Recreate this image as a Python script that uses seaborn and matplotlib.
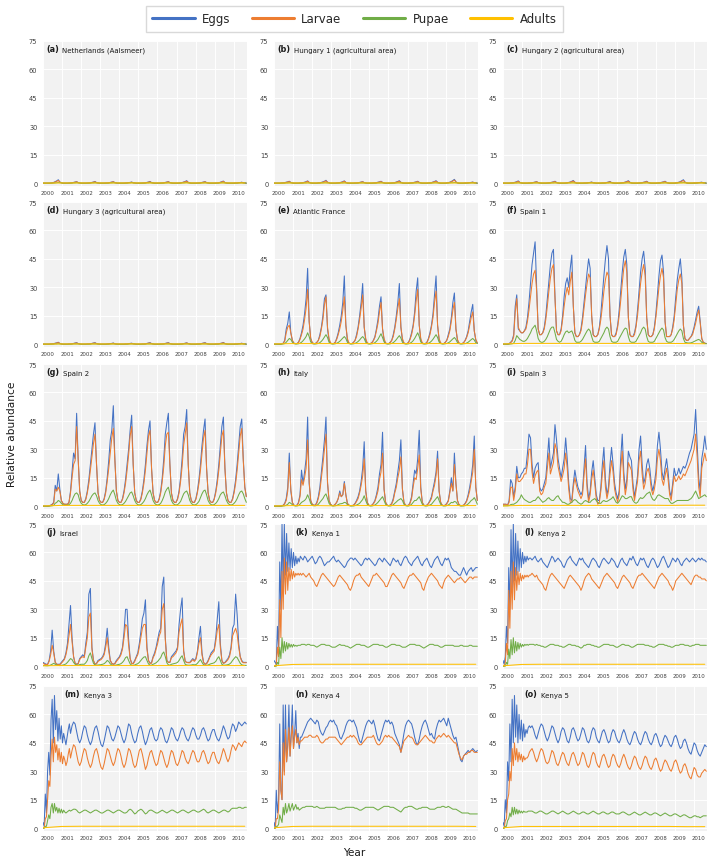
import numpy as np
import pandas as pd
import matplotlib
matplotlib.use("Agg")
import matplotlib.pyplot as plt
from matplotlib.lines import Line2D
import seaborn as sns

# ---------------- sample grids (years since start of axis) ----------------
T_MONTH = np.arange(134) / 12.0                                    # monthly samples
T_KENYA = np.concatenate([np.arange(24) / 16.0, 1.5 + np.arange(116) / 12.0])
T_ADULT = np.arange(12.0)

STAGES = ["Eggs", "Larvae", "Pupae", "Adults"]
COLORS = ["#4472C4", "#ED7D31", "#70AD47", "#FFC000"]
YEAR_LABELS = [str(y) for y in range(2000, 2011)]

# ---------------- (a) Netherlands (Aalsmeer) ----------------
nl_eggs = [0,0,0,0,0,.1,.2,.4,.8,1.2,1.8,.6, .2,0,0,0,0,.1,.1,.2,.4,.6,.8,.3,
           .1,0,0,0,0,.1,.1,.2,.4,.6,.9,.3, .1,0,0,0,0,.1,.1,.2,.4,.6,.8,.3,
           .1,0,0,0,0,0,.1,.2,.3,.4,.6,.2, .1,0,0,0,0,.1,.1,.2,.4,.6,.9,.3,
           .1,0,0,0,0,.1,.1,.2,.4,.6,.8,.3, .1,0,0,0,0,.1,.2,.3,.6,.9,1.3,.4,
           .1,0,0,0,0,.1,.1,.2,.4,.6,.8,.3, .1,0,0,0,0,.1,.1,.2,.5,.8,1.1,.3,
           .1,0,0,0,0,0,.1,.1,.2,.3,.5,.2, .1,0]
nl_larvae = [0,0,0,0,0,0,.1,.3,.6,1,1.4,.6, .2,0,0,0,0,0,.1,.2,.3,.5,.7,.3,
             .1,0,0,0,0,0,.1,.2,.3,.5,.7,.3, .1,0,0,0,0,0,.1,.2,.3,.5,.7,.3,
             .1,0,0,0,0,0,.1,.1,.2,.3,.5,.2, .1,0,0,0,0,0,.1,.2,.3,.5,.7,.3,
             .1,0,0,0,0,0,.1,.2,.3,.5,.7,.3, .1,0,0,0,0,0,.1,.3,.5,.7,1,.4,
             .1,0,0,0,0,0,.1,.2,.3,.5,.7,.3, .1,0,0,0,0,0,.1,.2,.4,.6,.9,.3,
             .1,0,0,0,0,0,.1,.1,.2,.3,.4,.2, .1,0]
nl_pupae = [0,0,0,0,0,0,0,0,.1,.2,.3,.2, .1,0,0,0,0,0,0,0,.1,.1,.2,.1,
            .1,0,0,0,0,0,0,0,.1,.1,.2,.1, .1,0,0,0,0,0,0,0,.1,.1,.2,.1,
            .1,0,0,0,0,0,0,0,.1,.1,.2,.1, .1,0,0,0,0,0,0,0,.1,.1,.2,.1,
            .1,0,0,0,0,0,0,0,.1,.1,.2,.1, .1,0,0,0,0,0,0,.1,.1,.2,.3,.1,
            .1,0,0,0,0,0,0,0,.1,.1,.2,.1, .1,0,0,0,0,0,0,0,.1,.2,.2,.1,
            .1,0,0,0,0,0,0,0,.1,.1,.1,.1, .1,0]
nl_adults = [0.05,0.1,0.1,0.1,0.1,0.1,0.1,0.1,0.1,0.1,0.1,0.1]

# ---------------- (b) Hungary 1 ----------------
hu1_eggs = [0,0,0,0,0,.1,.2,.3,.5,.7,1,.4, .1,0,0,0,0,.1,.2,.3,.5,.8,1.2,.4,
            .1,0,0,0,0,.2,.2,.4,.7,1,1.5,.5, .2,0,0,0,0,.1,.2,.3,.5,.8,1.2,.4,
            .1,0,0,0,0,.1,.1,.2,.4,.6,.8,.3, .1,0,0,0,0,.1,.2,.3,.5,.7,1,.4,
            .1,0,0,0,0,.1,.2,.3,.6,.9,1.3,.5, .1,0,0,0,0,.1,.2,.3,.5,.7,1,.4,
            .1,0,0,0,0,.1,.2,.3,.6,.9,1.3,.5, .1,0,0,0,0,.2,.3,.5,.9,1.4,2,.7,
            .2,0,0,0,0,.1,.1,.2,.3,.4,.6,.2, .1,0]
hu1_larvae = [0,0,0,0,0,.1,.1,.2,.4,.6,.8,.4, .1,0,0,0,0,.1,.1,.2,.4,.6,1,.4,
              .1,0,0,0,0,.1,.2,.3,.5,.8,1.2,.5, .2,0,0,0,0,.1,.1,.2,.4,.6,1,.4,
              .1,0,0,0,0,.1,.1,.2,.3,.5,.7,.3, .1,0,0,0,0,.1,.1,.2,.4,.6,.8,.4,
              .1,0,0,0,0,.1,.1,.2,.5,.7,1,.4, .1,0,0,0,0,.1,.1,.2,.4,.6,.8,.4,
              .1,0,0,0,0,.1,.1,.2,.5,.7,1,.4, .1,0,0,0,0,.1,.2,.4,.7,1.1,1.6,.6,
              .2,0,0,0,0,.1,.1,.2,.2,.3,.5,.2, .1,0]
hu1_pupae = [0,0,0,0,0,0,0,0,.1,.1,.2,.1, .1,0,0,0,0,0,0,0,.1,.1,.2,.1,
             .1,0,0,0,0,0,0,.1,.1,.2,.2,.1, .1,0,0,0,0,0,0,0,.1,.1,.2,.1,
             0,0,0,0,0,0,0,0,.1,.1,.1,.1, .1,0,0,0,0,0,0,0,.1,.1,.2,.1,
             .1,0,0,0,0,0,0,0,.1,.2,.2,.1, .1,0,0,0,0,0,0,0,.1,.1,.2,.1,
             .1,0,0,0,0,0,0,0,.1,.2,.2,.1, .1,0,0,0,0,0,0,.1,.2,.2,.3,.2,
             .1,0,0,0,0,0,0,0,.1,.1,.1,.1, .1,0]
hu1_adults = [0.05,0.1,0.1,0.1,0.1,0.1,0.1,0.1,0.1,0.1,0.1,0.1]

# ---------------- (c) Hungary 2 ----------------
hu2_eggs = [0,0,0,0,0,.1,.2,.3,.5,.8,1.2,.4, .1,0,0,0,0,.1,.1,.2,.4,.6,.8,.3,
            .1,0,0,0,0,.1,.2,.3,.5,.7,1,.4, .1,0,0,0,0,.1,.2,.4,.6,1,1.4,.5,
            .1,0,0,0,0,.1,.1,.2,.3,.4,.6,.2, .1,0,0,0,0,.1,.1,.2,.4,.6,.9,.3,
            .1,0,0,0,0,.1,.2,.3,.6,.9,1.3,.5, .1,0,0,0,0,.1,.2,.3,.5,.7,1,.4,
            .1,0,0,0,0,.1,.2,.3,.5,.7,1,.4, .1,0,0,0,0,.2,.3,.5,.8,1.3,1.8,.6,
            .2,0,0,0,0,.1,.1,.2,.3,.4,.5,.2, .1,0]
hu2_larvae = [0,0,0,0,0,.1,.1,.2,.4,.6,.9,.4, .1,0,0,0,0,.1,.1,.2,.3,.5,.7,.3,
              .1,0,0,0,0,.1,.1,.2,.4,.6,.8,.3, .1,0,0,0,0,.1,.2,.3,.5,.8,1.1,.5,
              .1,0,0,0,0,0,.1,.1,.2,.3,.5,.2, .1,0,0,0,0,.1,.1,.2,.3,.5,.7,.3,
              .1,0,0,0,0,.1,.2,.3,.5,.7,1,.4, .1,0,0,0,0,.1,.1,.2,.4,.6,.8,.3,
              .1,0,0,0,0,.1,.1,.2,.4,.6,.8,.3, .1,0,0,0,0,.1,.2,.4,.6,1,1.4,.5,
              .2,0,0,0,0,.1,.1,.2,.2,.3,.4,.2, .1,0]
hu2_pupae = [0,0,0,0,0,0,0,0,.1,.1,.2,.1, .1,0,0,0,0,0,0,0,.1,.1,.1,.1,
             .1,0,0,0,0,0,0,0,.1,.1,.2,.1, .1,0,0,0,0,0,0,.1,.1,.2,.2,.1,
             0,0,0,0,0,0,0,0,.1,.1,.1,.1, .1,0,0,0,0,0,0,0,.1,.1,.2,.1,
             .1,0,0,0,0,0,0,0,.1,.2,.2,.1, .1,0,0,0,0,0,0,0,.1,.1,.2,.1,
             .1,0,0,0,0,0,0,0,.1,.1,.2,.1, .1,0,0,0,0,0,0,.1,.2,.2,.3,.2,
             .1,0,0,0,0,0,0,0,.1,.1,.1,.1, .1,0]
hu2_adults = [0.05,0.1,0.1,0.1,0.1,0.1,0.1,0.1,0.1,0.1,0.1,0.1]

# ---------------- (d) Hungary 3 ----------------
hu3_eggs = [0,0,0,0,0,.1,.2,.3,.5,.7,1,.4, .1,0,0,0,0,.1,.1,.2,.4,.6,.8,.3,
            .1,0,0,0,0,.1,.1,.2,.4,.6,.8,.3, .1,0,0,0,0,0,.1,.2,.3,.4,.6,.2,
            .1,0,0,0,0,0,.1,.1,.2,.4,.5,.2, .1,0,0,0,0,.1,.1,.2,.4,.6,.8,.3,
            .1,0,0,0,0,.1,.1,.2,.4,.6,.8,.3, .1,0,0,0,0,0,.1,.2,.3,.5,.7,.3,
            .1,0,0,0,0,.1,.1,.2,.4,.6,.8,.3, .1,0,0,0,0,.1,.1,.2,.4,.6,.9,.3,
            .1,0,0,0,0,0,.1,.1,.2,.3,.5,.2, .1,0]
hu3_larvae = [0,0,0,0,0,.1,.1,.2,.4,.6,.8,.4, .1,0,0,0,0,.1,.1,.2,.3,.5,.6,.3,
              .1,0,0,0,0,.1,.1,.2,.3,.5,.6,.3, .1,0,0,0,0,0,.1,.1,.2,.3,.5,.2,
              .1,0,0,0,0,0,.1,.1,.2,.3,.4,.2, .1,0,0,0,0,.1,.1,.2,.3,.5,.6,.3,
              .1,0,0,0,0,.1,.1,.2,.3,.5,.6,.3, .1,0,0,0,0,0,.1,.1,.2,.4,.6,.3,
              .1,0,0,0,0,.1,.1,.2,.3,.5,.6,.3, .1,0,0,0,0,.1,.1,.2,.3,.5,.7,.3,
              .1,0,0,0,0,0,.1,.1,.2,.2,.4,.2, .1,0]
hu3_pupae = [0,0,0,0,0,0,0,0,.1,.1,.2,.1, .1,0,0,0,0,0,0,0,.1,.1,.1,.1,
             .1,0,0,0,0,0,0,0,.1,.1,.1,.1, .1,0,0,0,0,0,0,0,.1,.1,.1,.1,
             0,0,0,0,0,0,0,0,.1,.1,.1,.1, .1,0,0,0,0,0,0,0,.1,.1,.1,.1,
             .1,0,0,0,0,0,0,0,.1,.1,.1,.1, .1,0,0,0,0,0,0,0,.1,.1,.1,.1,
             .1,0,0,0,0,0,0,0,.1,.1,.1,.1, .1,0,0,0,0,0,0,0,.1,.1,.2,.1,
             .1,0,0,0,0,0,0,0,.1,.1,.1,.1, .1,0]
hu3_adults = [0.05,0.1,0.1,0.1,0.1,0.1,0.1,0.1,0.1,0.1,0.1,0.1]

# ---------------- (e) Atlantic France ----------------
fr_eggs = [0,0,0,0,0,.2,.5,2,8,11,17,6, 2,.5,.3,.3,1,3,6,10,16,24,40,12,
           3,.8,.3,.3,1,2,5,9,15,24,26,8, 2,.5,.3,.3,1,3,6,10,15,22,36,10,
           2,.5,.3,.3,1,2,5,9,15,22,32,9, 2,.5,.3,.3,.8,2,4,8,13,20,25,8,
           2,.5,.3,.3,1,2,5,9,15,22,32,9, 2,.5,.3,.3,1,3,6,10,17,28,35,10,
           2,.5,.3,.3,1,3,6,10,16,26,36,10, 2,.5,.3,.3,1,2,5,8,14,22,27,8,
           2,.5,.3,.3,.8,2,4,7,12,17,21,7, 2,.5]
fr_larvae = [0,0,0,0,0,.1,.4,1.5,6,9,10,6, 2,.5,.3,.3,.8,2.5,5,8,13,19,29,12,
             3,.8,.3,.3,.8,2,4,8,13,21,25,9, 3,.6,.3,.3,.8,2.5,5,8,12,18,25,10,
             3,.6,.3,.3,.8,2,4,8,13,19,26,9, 3,.6,.3,.3,.7,1.8,3.5,7,11,17,22,8,
             3,.6,.3,.3,.8,2,4,8,13,19,24,9, 3,.6,.3,.3,.8,2.5,5,9,15,23,29,10,
             3,.6,.3,.3,.8,2.5,5,9,14,22,28,10, 3,.6,.3,.3,.8,2,4,7,12,18,22,8,
             2.5,.6,.3,.3,.7,1.8,3.5,6,10,14,17,7, 2.5,.6]
fr_pupae = [0,0,0,0,0,0,.1,.3,1,2,3,2.5, 1,.3,.1,.1,.2,.5,1,1.8,2.8,4,6,4,
            1.2,.3,.1,.1,.2,.4,.8,1.5,2.5,3.8,5,3.5, 1,.3,.1,.1,.2,.5,.9,1.5,2.3,3.2,4,3,
            1,.3,.1,.1,.2,.4,.8,1.4,2.2,3.2,4,3, 1,.3,.1,.1,.2,.4,.8,1.5,2.5,4,5.5,3.5,
            1.2,.3,.1,.1,.2,.4,.8,1.5,2.4,3.5,4.5,3.2, 1,.3,.1,.1,.2,.5,1,1.8,3,4.5,6,4,
            1.2,.3,.1,.1,.2,.5,.9,1.6,2.6,3.8,5,3.5, 1.1,.3,.1,.1,.2,.4,.7,1.2,2,2.8,3.5,2.5,
            .8,.3,.1,.1,.2,.3,.6,1,1.7,2.4,3,2.2, .8,.3]
fr_adults = [0.1,0.3,0.3,0.3,0.3,0.3,0.3,0.3,0.3,0.3,0.3,0.3]

# ---------------- (f) Spain 1 ----------------
es1_eggs = [0,0,0,0,.3,1,2,5,20,26,8,7, 6,6,7,9,14,22,32,42,48,54,30,8,
            5,5,6,9,15,24,33,42,48,50,25,7, 5,5,8,15,25,32,35,30,40,47,20,6,
            4,4,5,8,14,22,30,38,45,40,15,5, 4,4,5,9,16,26,36,45,52,45,15,5,
            4,4,6,10,18,28,38,46,50,42,14,5, 4,4,6,10,18,28,38,45,49,40,14,5,
            4,4,5,9,16,26,36,44,47,38,12,4, 4,4,5,9,15,25,34,40,45,35,10,3,
            2,2,3,4,6,9,13,17,20,12,3,1, .5,.3]
es1_larvae = [0,0,0,0,.2,.8,1.5,4,17,24,9,7, 6,6,7,8,12,18,25,32,37,39,28,8,
              5,5,6,8,13,20,28,35,40,42,24,7, 5,5,7,13,20,26,30,26,33,38,20,6,
              4,4,5,7,12,19,26,32,37,35,15,5, 4,4,5,8,13,20,28,34,38,36,15,5,
              4,4,5,9,15,23,32,40,44,38,14,5, 4,4,5,9,15,24,32,38,42,36,14,5,
              4,4,5,8,14,22,30,36,40,35,12,4, 4,4,5,8,13,21,29,34,37,32,10,3,
              2,2,3,4,5,8,11,15,18,11,3,1, .5,.3]
es1_pupae = [0,0,0,0,0,.1,.2,.5,2,4.5,3.5,2.5, 2,1.5,1.5,2,3,4.5,6,8,9,10,7,3,
             1.5,1,1,1.5,2.5,4,6,8,9,9,6,2.5, 1.5,1,1.5,3,5,6.5,7,6,6.5,7,5,2,
             1,1,1,1.5,2.5,4,5.5,7,8,7,4,1.5, 1,1,1,1.5,3,4.5,6,8,9,8,4,1.5,
             1,1,1,1.5,3,4.5,6,7.5,8.5,8,4,1.5, 1,1,1,1.5,3,4.5,6,8,9,8,4,1.5,
             1,1,1,1.5,3,4.5,6,7.5,8.5,7.5,3.5,1.5, 1,1,1,1.5,2.5,4,5.5,7,8,7,3,1,
             .8,.6,.6,.7,1,1.4,1.8,2.2,2.5,2,1,.5, .3,.2]
es1_adults = [0.1,0.4,0.4,0.4,0.4,0.4,0.4,0.4,0.4,0.4,0.3,0.2]

# ---------------- (g) Spain 2 ----------------
es2_eggs = [0,0,0,0,.2,.5,1,2,11,8,17,9, 3,1.5,1,1,1,2,8,18,28,25,49,25,
            8,3,2,2,4,8,14,22,30,38,44,22, 7,3,2,2,4,8,15,24,35,40,53,25,
            8,3,2,2,4,8,14,22,30,40,48,22, 7,3,2,2,4,8,14,22,32,40,45,20,
            7,3,2,2,4,8,15,25,38,44,49,22, 7,3,2,2,4,8,15,25,38,42,51,22,
            7,3,2,2,4,8,14,22,32,40,46,20, 7,3,2,2,4,8,14,22,32,42,47,20,
            7,3,2,2,4,8,14,22,32,42,46,25, 10,5]
es2_larvae = [0,0,0,0,.1,.4,.8,1.5,9,8,10,8, 3,1.5,1,1,1,2,7,15,22,24,42,25,
              8,3,2,2,3.5,7,12,19,26,33,38,22, 7,3,2,2,3.5,7,13,20,28,36,41,24,
              8,3,2,2,3.5,7,12,19,27,37,42,22, 7,3,2,2,3.5,7,12,19,28,37,40,20,
              7,3,2,2,3.5,7,13,21,32,38,39,22, 7,3,2,2,3.5,7,13,21,32,38,44,22,
              7,3,2,2,3.5,7,12,19,28,36,40,20, 7,3,2,2,3.5,7,12,19,28,37,40,20,
              7,3,2,2,3.5,7,12,19,28,37,41,24, 10,5]
es2_pupae = [0,0,0,0,0,.1,.2,.4,1.5,2,3,2.5, 1.5,.8,.5,.5,.5,.8,1.5,3,5,6.5,7,6,
             3,1.5,.8,.6,.8,1.5,2.5,4,5.5,6.5,7,5.5, 3,1.5,.8,.6,.8,1.5,2.5,4,6,7.5,8.5,6,
             3,1.5,.8,.6,.8,1.5,2.5,4,5.5,7,7.5,5.5, 3,1.5,.8,.6,.8,1.5,2.5,4,6,7.5,8.5,6,
             3,1.5,.8,.6,.8,1.5,3,5,7.5,9,10,6.5, 3,1.5,.8,.6,.8,1.5,2.5,4.5,6.5,7.5,8,6,
             3,1.5,.8,.6,.8,1.5,2.5,4.5,6.5,8,8.5,6, 3,1.5,.8,.6,.8,1.5,2.5,4,6,7,7.5,5.5,
             3,1.5,.8,.6,.8,1.5,2.5,4,6,7.5,8,6.5, 4,2]
es2_adults = [0.1,0.4,0.4,0.4,0.4,0.4,0.4,0.4,0.4,0.4,0.4,0.4]

# ---------------- (h) Italy ----------------
it_eggs = [0,0,0,0,0,.2,.5,1.5,4,10,28,8, 2,.5,.3,.5,2,6,19,12,18,25,47,12,
           3,1,.5,.5,2,5,10,18,26,35,47,12, 3,1,.3,.3,1,2,4,8,5,6,13,6,
           1.5,.5,.3,.3,.5,1.5,3,5,8,13,20,34, 8,2,.5,.3,.5,1.5,3,6,10,17,22,39,
           9,2,.5,.3,.5,1.5,4,8,12,18,24,35, 9,2,.5,.3,.5,2,5,12,19,17,25,40,
           10,2,.5,.3,.5,1.5,3,5,9,13,18,29, 8,2,.5,.3,.5,1.5,3,8,15,8,28,12,
           3,.8,.3,.3,.5,1.5,3,6,10,15,22,37, 10,3]
it_larvae = [0,0,0,0,0,.1,.4,1.2,3,8,23,9, 2,.5,.3,.4,1.5,5,14,11,15,20,35,13,
             3,1,.5,.5,1.5,4,8,15,22,30,38,13, 3,1,.3,.3,1,2,4,7,5,6,12,6,
             1.5,.5,.3,.3,.5,1.2,2.5,4,7,11,16,25, 8,2,.5,.3,.5,1.2,2.5,5,8,14,18,28,
             9,2,.5,.3,.5,1.2,3,7,10,15,19,26, 9,2,.5,.3,.5,1.5,4,10,15,14,20,27,
             9,2,.5,.3,.5,1.2,2.5,4,8,11,16,25, 8,2,.5,.3,.5,1.2,2.5,7,12,8,22,12,
             3,.8,.3,.3,.5,1.2,2.5,5,8,13,18,30, 10,3]
it_pupae = [0,0,0,0,0,0,.1,.2,.5,1,2,1.5, .8,.3,.1,.1,.3,1,2,2.5,3,4,6,4,
            1.5,.5,.2,.2,.4,1,2,3,4,5.5,6.5,4, 1.5,.5,.2,.1,.2,.4,.8,1.2,1.3,1.5,2,1.8,
            .8,.3,.1,.1,.1,.3,.6,1,1.5,2.5,3.5,5.5, 3,1,.3,.1,.1,.3,.6,1.2,2,3,4,5,
            3,1,.3,.1,.1,.3,.7,1.5,2.2,3,3.5,4, 3,1,.3,.1,.1,.4,1,2,3,3,4,5,
            3,1,.3,.1,.1,.3,.6,1,2,3,4,5, 3,1,.3,.1,.1,.3,.6,1.2,2,1.8,2.5,2.2,
            1,.4,.1,.1,.1,.3,.6,1.2,2,3,3.5,4.5, 3,1]
it_adults = [0.1,0.3,0.3,0.2,0.3,0.3,0.3,0.3,0.3,0.3,0.3,0.3]

# ---------------- (i) Spain 3 ----------------
es3_eggs = [1,1,1,.5,3,14,12,5,10,21,15,15, 17,18,20,20,28,38,36,22,15,20,22,23,
            10,8,9,12,15,25,36,20,24,28,43,35, 25,20,15,20,25,36,25,12,4,3,12,19,
            14,10,8,6,8,20,32,12,4,8,18,24, 15,6,3,3,10,22,31,14,6,10,22,31,
            22,12,7,4,8,25,38,18,9,14,29,26, 24,12,5,10,16,30,37,22,12,15,22,25,
            20,12,8,12,18,32,39,30,18,14,20,25, 18,8,5,12,20,16,17,20,17,19,21,20,
            22,25,28,30,34,38,51,33,15,8,25,30, 37,30]
es3_larvae = [1,1,1,.5,2,10,10,3,8,17,13,13, 14,15,17,17,22,30,30,18,12,16,18,19,
              8,6,7,10,12,20,28,17,20,23,33,30, 21,17,13,16,20,28,20,9,2,2,10,15,
              11,8,6,4,6,16,25,9,2,6,14,19, 12,4,1,2,8,17,24,10,4,8,17,24,
              18,9,5,2,6,20,29,14,6,11,23,21, 19,9,3,8,13,24,29,17,9,12,18,20,
              16,9,6,9,14,25,30,24,14,11,16,20, 14,6,3,10,16,13,14,16,14,15,17,16,
              18,20,22,24,27,30,38,26,10,5,20,24, 28,24]
es3_pupae = [.2,.2,.2,.2,.3,.8,1,1,1.5,2,3,4, 6,4.5,3.5,3,2.5,2,2,2.5,3,3,4,5,
             4,3,2,2.5,3,4,4.5,3.5,3,3,4,5, 5.5,4,3,2,2,1.5,1,1,1.5,2,3,3.5,
             3,2,1.5,1,1.5,2.5,3,2.5,2,2,3,3.5, 4,3,2,1.5,1.5,2.5,3,2.5,2.5,3,3.5,4,
             5,3.5,2,1.5,2.5,4,5.5,5,4,4,4.5,5, 5,3,2,1.5,2,3.5,4.5,4,4.5,5.5,6.5,7,
             7.5,5,3.5,3,4,5.5,6,5.5,5,4.5,4,4, 4,2.5,1.5,1.5,2,2.5,3,3,3,3,3,3,
             3,3,3.5,4,5,6.5,8,6,4,4.5,5,5.5, 6,5]
es3_adults = [0.1,0.4,0.4,0.4,0.4,0.4,0.4,0.4,0.5,0.4,0.5,0.5]

# ---------------- (j) Israel ----------------
il_eggs = [2,1.5,1,1,3,8,19,8,2,1,1,1, 2,3,4,7,12,22,32,15,5,1.5,1,1.5,
           4,5,6,5,12,18,38,41,10,3,1,1.5, 3,3.5,4,5,7,12,20,10,3,1.5,1,1.5,
           3,4,5,7,10,18,30,30,14,4,1.5,1.5, 3,5,7,12,18,25,28,35,10,3,1.5,2,
           5,7,10,14,18,20,42,47,15,3,2,2, 5,6,7,8,10,22,30,36,8,2.5,2,2,
           2,3,4,3,4,8,15,21,7,2,1,1.5, 3,5,7,8,9,15,25,34,12,3,1.5,2,
           3,4,6,10,20,22,38,27,12,5,3,2, 2,2]
il_larvae = [1.5,1,.8,.8,2.5,6,11,7,2,1,.8,.8, 1.5,2.5,3.5,6,10,16,22,13,5,1.5,1,1.2,
             3.5,4.5,5,4.5,10,15,26,28,9,3,1,1.2, 2.5,3,3.5,4.5,6,10,15,8,3,1.5,1,1.2,
             2.5,3.5,4.5,6,9,15,22,21,11,4,1.5,1.2, 2.5,4.5,6,10,15,20,22,22,9,3,1.5,1.5,
             4.5,6,9,12,16,18,30,33,14,3,2,2, 4.5,5,6,7,9,18,22,25,8,2.5,2,1.8,
             1.8,2.5,3.5,2.5,3.5,7,12,15,6,2,1,1.2, 2.5,4.5,6,7,8,13,19,22,10,3,1.5,1.8,
             2.5,3.5,5,9,16,18,20,17,10,5,2.5,1.8, 1.8,1.8]
il_pupae = [.3,.3,.2,.2,.3,.6,1,1.5,1,.6,.4,.3, .4,.6,.8,1.2,2,3,4,3.5,2,1,.6,.5,
            .8,1,1,1,1.8,3,5.5,7,4,1.5,.6,.5, .6,.7,.8,1,1.3,2,3,2.5,1.2,.6,.4,.4,
            .6,.8,1,1.3,2,3,4.5,5,3,1.2,.5,.4, .6,1,1.3,2,3,4,4.8,5,3,1.2,.5,.5,
            1,1.3,1.8,2.5,3.5,4.5,6.5,7.5,5,1.8,.7,.5, 1,1.2,1.4,1.6,2,3,4.5,5.5,3,1,.6,.5,
            .5,.6,.8,.7,.8,1.5,2.5,3.5,2,.7,.4,.4, .6,1,1.3,1.5,1.8,2.5,4,5,3,1,.5,.5,
            .6,.8,1.1,1.8,3,4,5,4.5,3,1.5,.7,.5, .4,.4]
il_adults = [0.2,0.3,0.3,0.3,0.3,0.3,0.3,0.3,0.3,0.3,0.3,0.3]

# ---------------- (k) Kenya 1 ----------------
ke1_eggs = [3,2,1,21,10,55,30,75,40,75,48,70,50,65,51,62,52,60,53,58,54,57,55,58,
            57,56,58,57,55,56,57,58,56,54,55,57, 58,57,55,53,54,55,55,56,57,58,56,55,
            56,55,54,53,52,53,55,56,57,57,56,57, 56,55,54,53,54,56,57,56,57,56,55,54,
            53,54,56,57,56,55,57,56,55,54,53,55, 57,56,55,56,54,53,55,57,58,57,55,54,
            53,55,56,57,58,56,54,53,55,56,57,55, 53,52,54,56,57,58,56,54,53,55,57,56,
            57,55,52,51,50,50,49,48,48,50,52,50, 48,50,51,52,50,51,52,52]
ke1_larvae = [0,0,1,10,5,35,15,50,30,57,38,55,40,52,45,51,46,50,47,49,48,49,48,49,
              48,49,48,47,48,49,47,46,45,43,42,44, 46,48,49,48,47,46,45,44,43,42,43,45,
              47,48,47,46,45,44,43,41,40,42,45,47, 48,48,49,47,46,45,44,43,42,44,46,48,
              48,49,48,47,46,45,44,42,42,44,46,48, 49,48,47,46,45,44,42,41,43,45,47,48,
              48,49,48,47,46,45,44,41,40,43,45,47, 48,49,48,47,46,45,43,42,41,44,46,47,
              48,47,46,45,44,45,46,46,47,46,45,44, 45,46,47,47,46,47,47,47]
ke1_pupae = [0,0,0,2,1,10,4,15,7,13,8,12.5,9,12,10,11.5,10,11.5,10.5,11,10.5,11,11,11,
             11.5,11.5,11.5,11,11.5,11.5,11,11,11,10.5,10,10.5, 11,11.5,11.5,11.5,11,11,11,10.5,10,10,10,10.5,
             11,11.5,11,11,11,10.5,10.5,10,9.5,10,10.5,11, 11.5,11.5,11.5,11,11,11,10.5,10,10,10.5,11,11.5,
             11.5,11.5,11.5,11,11,11,10.5,10,10,10.5,11,11.5, 11.5,11.5,11,11,11,10.5,10,10,10,10.5,11,11.5,
             11.5,11.5,11.5,11,11,11,10.5,10,9.5,10,10.5,11, 11.5,11.5,11.5,11,11,11,10.5,10,10,10.5,11,11,
             11,11,11,11,10.5,10.5,10.5,10.5,11,11,10.5,10.5, 10.5,10.5,11,11,10.5,10.5,10.5,10.5]
ke1_adults = [0.2,0.9,1.0,1.0,1.0,1.0,1.0,1.0,1.0,1.0,1.0,1.0]

# ---------------- (l) Kenya 2 ----------------
ke2_eggs = [3,1,5,21,12,52,30,72,40,75,45,70,48,66,50,62,52,60,54,58,55,58,56,57,
            57,56,57,58,56,55,56,57,55,54,53,52, 54,56,58,57,55,56,57,56,55,53,52,54,
            56,57,58,56,55,54,53,55,57,56,57,55, 54,53,52,54,56,57,56,55,53,52,54,56,
            57,56,55,54,55,57,56,55,53,52,54,56, 57,55,54,53,55,57,56,58,56,54,53,55,
            57,56,57,55,53,52,54,56,57,56,54,52, 53,55,57,58,56,54,52,53,55,57,56,55,
            57,56,54,53,55,56,57,56,55,56,57,56, 55,56,57,56,57,56,56,55]
ke2_larvae = [0,0,2,12,6,40,20,50,30,55,35,52,40,50,43,49,45,48,46,48,47,48,47,48,
              48,49,48,47,48,46,45,44,43,41,40,43, 46,48,49,48,47,46,45,44,43,42,41,43,
              45,47,48,47,46,45,44,43,42,40,42,45, 47,48,49,48,46,45,44,43,42,41,43,45,
              47,48,49,48,47,46,45,44,42,41,43,45, 47,48,47,46,45,44,42,41,43,45,47,48,
              48,49,48,47,46,45,44,43,42,41,43,45, 47,48,49,48,47,46,45,43,42,40,42,45,
              46,47,48,49,48,47,46,45,44,43,45,47, 48,48,47,47,46,46,46,45]
ke2_pupae = [0,0,0,2,1,9,4,14,6,15,7,13,8,12.5,9,12,10,11.5,10.5,11.5,11,11.5,11,11.5,
             11.5,11.5,11.5,11,11.5,11,11,10.5,10.5,10,10,10.5, 11,11.5,11.5,11.5,11,11,11,10.5,10.5,10,10,10.5,
             11,11.5,11.5,11,11,11,10.5,10.5,10,9.5,10,11, 11,11.5,11.5,11.5,11,11,10.5,10.5,10,10,10.5,11,
             11.5,11.5,11.5,11.5,11,11,11,10.5,10,10,10.5,11, 11.5,11.5,11,11,11,10.5,10,10,10.5,11,11.5,11.5,
             11.5,11.5,11.5,11,11,11,10.5,10.5,10,10,10.5,11, 11.5,11.5,11.5,11.5,11,11,10.5,10.5,10,10,10.5,11,
             11,11,11.5,11.5,11.5,11,11,11,10.5,10.5,11,11, 11.5,11.5,11.5,11,11,11,11,11]
ke2_adults = [0.2,0.9,1.0,1.0,1.0,1.0,1.0,1.0,1.0,1.0,1.0,1.0]

# ---------------- (m) Kenya 3 ----------------
ke3_eggs = [3,1,18,8,30,40,28,57,68,45,70,52,62,46,58,47,54,45,50,47,44,48,52,55,
            50,54,56,55,51,47,45,47,51,54,53,49, 46,44,46,50,53,54,51,47,44,43,46,50,
            54,53,50,47,46,48,51,54,53,50,47,45, 47,51,55,54,50,47,45,46,50,53,54,51,
            47,44,46,49,52,53,50,47,46,47,51,53, 52,49,46,45,47,50,53,52,49,47,46,48,
            51,53,52,49,47,46,48,51,53,52,49,47, 47,49,52,53,51,48,46,47,50,52,52,49,
            47,46,48,51,54,52,49,47,48,52,55,54, 51,53,56,55,54,55,56,55]
ke3_larvae = [0,0,5,6,15,25,22,38,47,35,48,40,44,36,42,35,40,34,38,36,33,35,39,42,
              37,41,44,43,39,35,33,35,39,42,41,37, 34,32,34,38,41,42,39,35,32,31,34,38,
              42,41,38,35,33,35,39,42,41,38,34,32, 34,38,42,41,38,34,32,33,37,41,42,39,
              35,31,33,37,40,41,38,35,33,34,38,41, 40,37,34,32,34,38,41,40,37,34,33,35,
              38,41,40,37,35,34,36,39,41,40,37,35, 35,37,40,41,39,36,34,35,38,40,40,37,
              35,34,36,39,42,40,37,35,37,41,44,43, 41,43,45,44,43,45,46,45]
ke3_pupae = [0,0,1,1,4,7,5,11,13,8,13,9,11,8,10.5,8,10,8,9.5,8.5,8,8.5,9,9.5,
             9,9.5,10,10,9.5,8.5,8,8.5,9,9.5,9.5,9, 8.5,8,8.5,9,9.5,9.5,9,8.5,8,8,8.5,9,
             9.5,9.5,9,8.5,8,8.5,9,9.5,9.5,9,8.5,8, 8,8.5,9.5,10,9.5,8.5,7.5,8,9,9.5,10,9.5,
             8.5,7.5,8,9,9.5,9.5,9,8.5,8,8,8.5,9, 9.5,9,8.5,8,8.5,9,9.5,9.5,9,8.5,8,8.5,
             9,9.5,9.5,9,8.5,8,8.5,9,9.5,9.5,9,8.5, 8.5,9,9.5,10,9.5,8.5,8,8.5,9,9.5,9.5,9,
             8.5,8,8.5,9,9.5,9.5,9,8.5,9,10,10.5,10.5, 10.5,10.5,11,11,10.5,10.5,11,11]
ke3_adults = [0.2,0.9,1.0,1.0,1.0,1.0,1.0,1.0,1.0,1.0,1.0,1.0]

# ---------------- (n) Kenya 4 ----------------
ke4_eggs = [3,0,20,8,15,55,20,15,65,30,65,35,45,65,38,50,65,42,50,62,45,50,42,48,
            48,50,52,54,56,57,58,57,56,55,57,56, 52,50,49,51,53,54,56,57,56,57,55,54,
            51,48,47,49,51,54,56,57,57,56,57,55, 53,49,46,45,48,51,54,56,57,56,55,57,
            54,50,47,46,49,52,55,57,56,57,55,56, 54,50,48,46,44,40,45,50,54,56,57,56,
            55,52,48,45,44,47,51,54,56,57,55,52, 49,50,48,47,52,55,57,56,57,58,56,54,
            58,55,52,49,47,48,44,40,36,35,38,39, 40,41,40,41,42,41,40,41]
ke4_larvae = [0,0,5,5,10,35,20,15,45,28,52,35,42,53,38,48,54,42,48,52,45,48,44,46,
              46,47,48,48,48,49,49,48,48,48,49,48, 46,45,45,46,47,47,48,48,48,48,48,47,
              46,45,44,45,46,47,48,48,49,48,49,48, 47,45,44,44,45,46,47,48,48,48,48,49,
              47,45,44,44,45,46,48,49,48,49,48,48, 47,46,45,44,43,40,43,46,47,48,49,48,
              48,47,45,44,44,45,46,47,48,49,48,47, 46,46,45,45,47,48,49,48,49,50,49,48,
              49,48,47,46,45,45,42,39,37,36,38,39, 39,40,40,41,41,40,40,40]
ke4_pupae = [0,0,1,1,2,7,5,3,11,7,13,8,10,13,9,11,13,9.5,11,12.5,10,11,9.5,10,
             10.5,11,11,11.5,11.5,11.5,11.5,11.5,11,11,11.5,11, 10.5,10.5,10.5,10.5,11,11,11,11,11,11,11,10.5,
             10,10,10,10.5,10.5,11,11,11,11,11,11,10.5, 10.5,10,9.5,9.5,10,10.5,11,11,11,11,11,11,
             10.5,10,9.5,10,10.5,11,11.5,11.5,11.5,11.5,11,11, 11,10.5,10,9.5,9,8.5,9.5,10.5,11,11,11.5,11.5,
             11.5,11,10.5,10,10,10.5,10.5,11,11,11,11,10.5, 10,10,10,10,10.5,11,11,11,11.5,11.5,11,11,
             11.5,11,10.5,10,10,10,9.5,9,8.5,8,8,8, 8,8,7.5,7.5,7.5,7.5,7.5,7.5]
ke4_adults = [0.2,0.9,1.0,1.0,1.0,1.0,1.0,1.0,1.0,1.0,1.0,0.9]

# ---------------- (o) Kenya 5 ----------------
ke5_eggs = [3,1,15,8,35,25,55,35,68,45,70,48,65,45,60,47,57,46,55,48,52,50,53,54,
            53,54,52,49,47,50,53,55,54,51,48,46, 48,51,54,53,50,47,45,47,51,53,52,49,
            46,45,48,52,53,51,48,46,47,50,53,52, 49,46,45,47,51,53,52,48,46,45,48,51,
            52,50,47,45,46,50,52,51,48,46,45,47, 50,52,50,47,45,44,46,49,51,50,47,45,
            44,46,49,51,50,47,45,44,46,49,50,48, 45,43,44,47,49,48,46,44,43,45,48,49,
            47,44,42,43,46,47,45,42,40,39,42,45, 44,41,39,38,40,42,44,43]
ke5_larvae = [0,0,4,5,15,18,30,25,42,33,45,36,42,35,40,36,39,35,38,36,37,37,38,40,
              41,42,40,37,35,37,40,42,41,38,35,34, 35,38,41,40,37,34,33,35,38,40,39,36,
              34,33,36,39,40,38,35,33,34,37,40,39, 36,33,32,34,38,40,39,35,33,32,35,38,
              39,37,34,32,33,37,39,38,35,33,32,34, 37,39,37,34,32,31,33,36,38,37,34,32,
              31,33,36,38,37,34,32,31,33,36,37,35, 32,30,31,34,36,35,33,31,30,32,35,36,
              34,31,29,30,33,34,32,29,27,26,29,32, 31,28,27,27,29,30,31,30]
ke5_pupae = [0,0,1,1,4,5,8,6,11,7,11,7.5,10,7.5,9.5,8,9,8,9,8.5,8.5,8.5,9,9,
             9,9,8.5,8,8,8.5,9,9,8.5,8,7.5,7.5, 8,8.5,9,9,8.5,8,7.5,8,8.5,9,8.5,8,
             7.5,7.5,8,8.5,9,8.5,8,7.5,7.5,8,8.5,8.5, 8,7.5,7.5,8,8.5,9,8.5,8,7.5,7.5,8,8.5,
             8.5,8,7.5,7.5,8,8.5,8.5,8,7.5,7.5,7.5,8, 8.5,8.5,8,7.5,7,7,7.5,8,8.5,8,7.5,7,
             7,7.5,8,8.5,8,7.5,7,7,7.5,8,8,7.5, 7,6.5,7,7.5,8,7.5,7,6.5,6.5,7,7.5,7.5,
             7,6.5,6,6.5,7,7,6.5,6,5.5,5.5,6,6.5, 6.5,6,6,5.5,6,6.5,6.5,6.5]
ke5_adults = [0.2,0.9,0.9,0.9,0.9,0.9,0.9,0.9,0.9,0.9,0.8,0.8]

PANELS = [
    ("(a)", "Netherlands (Aalsmeer)", T_MONTH, nl_eggs, nl_larvae, nl_pupae, nl_adults),
    ("(b)", "Hungary 1 (agricultural area)", T_MONTH, hu1_eggs, hu1_larvae, hu1_pupae, hu1_adults),
    ("(c)", "Hungary 2 (agricultural area)", T_MONTH, hu2_eggs, hu2_larvae, hu2_pupae, hu2_adults),
    ("(d)", "Hungary 3 (agricultural area)", T_MONTH, hu3_eggs, hu3_larvae, hu3_pupae, hu3_adults),
    ("(e)", "Atlantic France", T_MONTH, fr_eggs, fr_larvae, fr_pupae, fr_adults),
    ("(f)", "Spain 1", T_MONTH, es1_eggs, es1_larvae, es1_pupae, es1_adults),
    ("(g)", "Spain 2", T_MONTH, es2_eggs, es2_larvae, es2_pupae, es2_adults),
    ("(h)", "Italy", T_MONTH, it_eggs, it_larvae, it_pupae, it_adults),
    ("(i)", "Spain 3", T_MONTH, es3_eggs, es3_larvae, es3_pupae, es3_adults),
    ("(j)", "Israel", T_MONTH, il_eggs, il_larvae, il_pupae, il_adults),
    ("(k)", "Kenya 1", T_KENYA, ke1_eggs, ke1_larvae, ke1_pupae, ke1_adults),
    ("(l)", "Kenya 2", T_KENYA, ke2_eggs, ke2_larvae, ke2_pupae, ke2_adults),
    ("(m)", "Kenya 3", T_KENYA, ke3_eggs, ke3_larvae, ke3_pupae, ke3_adults),
    ("(n)", "Kenya 4", T_KENYA, ke4_eggs, ke4_larvae, ke4_pupae, ke4_adults),
    ("(o)", "Kenya 5", T_KENYA, ke5_eggs, ke5_larvae, ke5_pupae, ke5_adults),
]


def panel_frame(letter, grid, eggs, larvae, pupae, adults):
    parts = []
    for stage, vals, tt in (("Eggs", eggs, grid), ("Larvae", larvae, grid),
                            ("Pupae", pupae, grid), ("Adults", adults, T_ADULT)):
        if len(vals) != len(tt):
            raise ValueError(f"{letter} {stage}: {len(vals)} values for {len(tt)} points")
        parts.append(pd.DataFrame({"t": tt, "value": vals, "stage": stage}))
    return pd.concat(parts, ignore_index=True)


sns.set_theme(style="white")
plt.rcParams["font.family"] = ["DejaVu Sans"]

W, H = 709, 862
fig = plt.figure(figsize=(W / 100, H / 100), dpi=100)

COL_LEFT = [43, 274, 503]
ROW_TOP = [42, 203, 365, 525, 687]
AX_W, AX_H = 204, 145
XMAX = 11.12
STEP = 1.04
major = [0.27 + STEP * k for k in range(11)]
minor = [STEP * k for k in range(11)]

for idx, (letter, name, grid, eggs, larvae, pupae, adults) in enumerate(PANELS):
    r, c = divmod(idx, 3)
    left = COL_LEFT[c] / W
    bottom = 1 - (ROW_TOP[r] + AX_H) / H
    ax = fig.add_axes([left, bottom, AX_W / W, AX_H / H])
    ax.set_facecolor("#F2F2F2")
    df = panel_frame(letter, grid, eggs, larvae, pupae, adults)
    sns.lineplot(data=df, x="t", y="value", hue="stage", hue_order=STAGES,
                 palette=COLORS, linewidth=0.75, estimator=None, sort=False,
                 legend=False, ax=ax)
    ax.set_xlim(0, XMAX)
    ax.set_ylim(-1.5, 75)
    ax.set_yticks([0, 15, 30, 45, 60, 75])
    ax.set_xticks(major)
    ax.set_xticklabels(YEAR_LABELS)
    ax.set_xticks(minor, minor=True)
    ax.grid(True, axis="y", which="major", color="white", linewidth=0.7)
    ax.grid(True, axis="x", which="minor", color="white", linewidth=0.7)
    ax.set_axisbelow(True)
    for s in ax.spines.values():
        s.set_visible(False)
    ax.tick_params(axis="both", which="both", length=0)
    ax.tick_params(axis="x", labelsize=3.9, colors="#404040", pad=3)
    ax.tick_params(axis="y", labelsize=4.8, colors="#404040", pad=4)
    ax.set_xlabel("")
    ax.set_ylabel("")
    x0 = 0.105 if letter in ("(k)", "(l)", "(m)", "(n)", "(o)") else 0.015
    t1 = ax.text(x0, 0.982, letter, transform=ax.transAxes, fontsize=5.8,
                 fontweight="bold", va="top", ha="left", color="#1a1a1a")
    ax.annotate(name, xy=(1, 0), xycoords=t1, xytext=(2.5, 0),
                textcoords="offset points", fontsize=5.0, va="bottom",
                ha="left", color="#1a1a1a")

handles = [Line2D([0], [0], color=col, lw=2.2) for col in COLORS]
fig.legend(handles, STAGES, loc="upper center", bbox_to_anchor=(0.5, 0.999),
           ncol=4, fontsize=8.5, frameon=True, fancybox=False,
           edgecolor="#d0d0d0", handlelength=3.6, handletextpad=0.6,
           columnspacing=1.8, borderpad=0.55)

fig.text(0.017, 1 - 434 / H, "Relative abundance", rotation=90,
         fontsize=7.6, va="center", ha="center", color="#1a1a1a")
fig.text(0.5, 1 - 853 / H, "Year", fontsize=7.6, va="center",
         ha="center", color="#1a1a1a")

fig.savefig("out.png", dpi=100, facecolor="white")
